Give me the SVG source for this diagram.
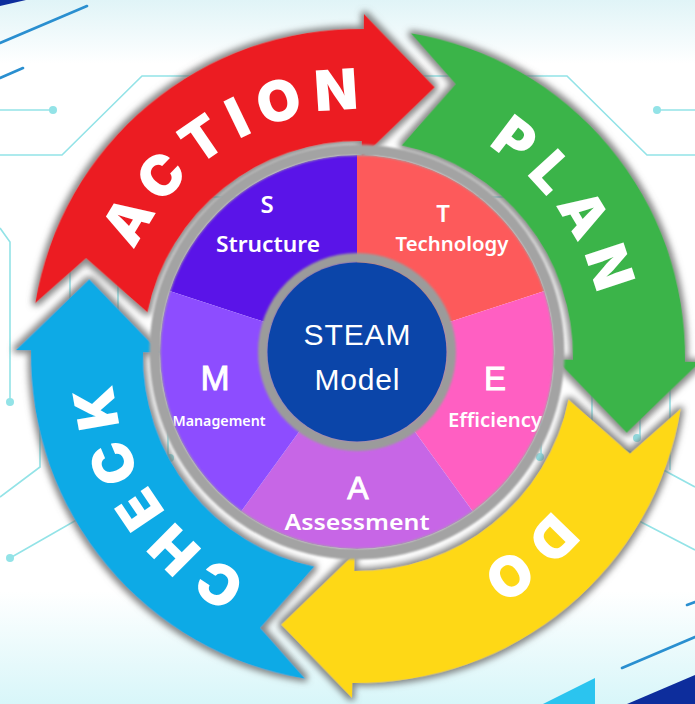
<svg xmlns="http://www.w3.org/2000/svg" width="695" height="704" viewBox="0 0 695 704">
  <defs>
    <linearGradient id="bg" x1="0" y1="0" x2="0" y2="1">
      <stop offset="0" stop-color="#e0f4f7"/>
      <stop offset="0.09" stop-color="#ffffff"/>
      <stop offset="0.84" stop-color="#ffffff"/>
      <stop offset="1" stop-color="#d8f6f9"/>
    </linearGradient>
    <!-- grey halo around the ring arrows -->
    <filter id="halo" x="-15%" y="-15%" width="130%" height="130%">
      <feMorphology in="SourceAlpha" operator="dilate" radius="3.5" result="grow"/>
      <feGaussianBlur in="grow" stdDeviation="3" result="blur"/>
      <feFlood flood-color="#6a6a6a" flood-opacity="0.8"/>
      <feComposite in2="blur" operator="in" result="shade"/>
      <feMerge>
        <feMergeNode in="shade"/>
        <feMergeNode in="SourceGraphic"/>
      </feMerge>
    </filter>
    <filter id="soft" x="-10%" y="-10%" width="120%" height="120%">
      <feGaussianBlur stdDeviation="1.3"/>
    </filter>
    <!-- one curved arrow, centred on the ring centre, head base pointing up -->
    <path id="arrowShape" d="M -323.6,-47.2 L -273.6,-93.1 L -211.3,-39.9 A 215 215 0 0 1 0,-215 L 0,-198 L 72,-270 L 0,-342 L 0,-327 A 327 327 0 0 0 -323.6,-47.2 Z"/>
    <!-- baseline arc for the words along each arrow -->
    <path id="wordArc" d="M -232.1,84.5 A 247 247 0 0 1 84.5,-232.1" fill="none"/>
  </defs>
  <style>
    .circuit { fill: none; stroke: #93e3e7; stroke-width: 1.6; }
    .dot { fill: #93e3e7; }
    .deco { stroke: #2a8fd0; stroke-width: 2.6; stroke-linecap: round; }
    .arrow { filter: url(#halo); }
    .word { font-family: Inter, "Open Sans", sans-serif; font-weight: 900; font-size: 56px; fill: #ffffff; text-anchor: middle; letter-spacing: 11px; }
    .pie text { fill: #ffffff; text-anchor: middle; }
    .lbl { font-family: "Noto Sans", "Open Sans", sans-serif; font-weight: 600; }
    .big { font-family: "Liberation Sans", Arial, sans-serif; }
    .initial { stroke: #ffffff; stroke-width: 0.9; }
  </style>

  <!-- background -->
  <rect x="0" y="0" width="695" height="704" fill="url(#bg)"/>
  <g id="background-deco">
    <polygon points="0,0 26,0 0,6" fill="#0d2d9c"/>
    <line class="deco" x1="0" y1="43" x2="87" y2="6"/>
    <line class="deco" x1="0" y1="78" x2="23" y2="68"/>
    <line class="deco" x1="622" y1="668" x2="695" y2="637"/>
    <line class="deco" x1="687" y1="605" x2="695" y2="602"/>
    <polygon points="543,704 595,678 595,704" fill="#2bc4ef"/>
    <polygon points="627,704 695,675 695,704" fill="#0d2d9c"/>

    <polyline class="circuit" points="0,110 53,110"/>
    <circle class="dot" cx="53" cy="110" r="4"/>
    <polyline class="circuit" points="0,155 62,155 142,76 567,76 647,155 695,155"/>
    <polyline class="circuit" points="657,110 695,110"/>
    <circle class="dot" cx="657" cy="110" r="4"/>
    <polyline class="circuit" points="0,228 10,242 10,402"/>
    <circle class="dot" cx="10" cy="402" r="4"/>
    <polyline class="circuit" points="40,330 40,467 0,497"/>
    <polyline class="circuit" points="10,558 150,478"/>
    <circle class="dot" cx="10" cy="558" r="4"/>
    <polyline class="circuit" points="580,425 695,487"/>
    <polyline class="circuit" points="560,480 695,550"/>
    <polyline class="circuit" points="150,197 560,197"/>
    <polyline class="circuit" points="70,230 70,330"/>
    <polyline class="circuit" points="118,230 118,330"/>
    <polyline class="circuit" points="592,380 592,470"/>
    <polyline class="circuit" points="640,380 640,438"/>
    <circle class="dot" cx="637" cy="438" r="4"/>
    <polyline class="circuit" points="670,380 670,470"/>
    <polyline class="circuit" points="168,300 168,458"/>
    <circle class="dot" cx="170" cy="458" r="4"/>
    <polyline class="circuit" points="541,300 541,458"/>
    <circle class="dot" cx="540" cy="457" r="4"/>
  </g>

  <!-- PDCA ring -->
  <g id="cycle">
    <g id="action" transform="translate(358 356) rotate(1)">
      <use href="#arrowShape" class="arrow" fill="#ec1c24"/>
      <text class="word"><textPath href="#wordArc" startOffset="336">ACTION</textPath></text>
    </g>
    <g id="plan" transform="translate(358 356) rotate(91)">
      <use href="#arrowShape" class="arrow" fill="#3ab44a"/>
      <text class="word"><textPath href="#wordArc" startOffset="318">PLAN</textPath></text>
    </g>
    <g id="do" transform="translate(358 356) rotate(181)">
      <use href="#arrowShape" class="arrow" fill="#fed816"/>
      <text class="word"><textPath href="#wordArc" startOffset="300">DO</textPath></text>
    </g>
    <g id="check" transform="translate(358 356) rotate(271)">
      <use href="#arrowShape" class="arrow" fill="#0eaae6"/>
      <text class="word"><textPath href="#wordArc" startOffset="324">CHECK</textPath></text>
    </g>
  </g>

  <!-- STEAM wheel -->
  <g id="wheel" class="pie">
    <g id="s-structure">
      <path d="M357,352 L169.6,291.1 A197,197 0 0 1 357,155 Z" fill="#5a14e8"/>
      <text class="lbl" x="267" y="213" font-size="24">S</text>
      <text class="lbl" x="268" y="252" font-size="21" textLength="104" lengthAdjust="spacingAndGlyphs">Structure</text>
    </g>
    <g id="t-technology">
      <path d="M357,352 L357,155 A197,197 0 0 1 544.4,291.1 Z" fill="#fd5a5b"/>
      <text class="lbl" x="443" y="222" font-size="24" font-weight="500">T</text>
      <text class="lbl" x="452" y="251" font-size="20" font-weight="500" textLength="113" lengthAdjust="spacingAndGlyphs">Technology</text>
    </g>
    <g id="e-efficiency">
      <path d="M357,352 L544.4,291.1 A197,197 0 0 1 472.8,511.4 Z" fill="#ff5fc2"/>
      <text class="big initial" x="495" y="390" font-size="33">E</text>
      <text class="lbl" x="495" y="427" font-size="19" font-weight="500" textLength="94" lengthAdjust="spacingAndGlyphs">Efficiency</text>
    </g>
    <g id="a-assessment">
      <path d="M357,352 L472.8,511.4 A197,197 0 0 1 241.2,511.4 Z" fill="#c766e6"/>
      <text class="big initial" x="358" y="499" font-size="32">A</text>
      <text class="lbl" x="357" y="530" font-size="22" font-weight="500" textLength="145" lengthAdjust="spacingAndGlyphs">Assessment</text>
    </g>
    <g id="m-management">
      <path d="M357,352 L241.2,511.4 A197,197 0 0 1 169.6,291.1 Z" fill="#8d4dff"/>
      <text class="big initial" x="215" y="390" font-size="35">M</text>
      <text class="lbl" x="219" y="426" font-size="15" textLength="93" lengthAdjust="spacingAndGlyphs">Management</text>
    </g>
    <circle cx="357" cy="352" r="202" fill="none" stroke="#a3a3a3" stroke-width="11" filter="url(#soft)"/>
    <g id="steam-model">
      <circle cx="357" cy="352" r="94" fill="none" stroke="#9b9b9b" stroke-width="10" filter="url(#soft)"/>
      <circle cx="357" cy="352" r="89.5" fill="#0b45a9"/>
      <text class="big" x="357" y="345" font-size="30" textLength="107" fill="#eef2ff">STEAM</text>
      <text class="big" x="357" y="390" font-size="30" textLength="85" fill="#eef2ff">Model</text>
    </g>
  </g>
</svg>
